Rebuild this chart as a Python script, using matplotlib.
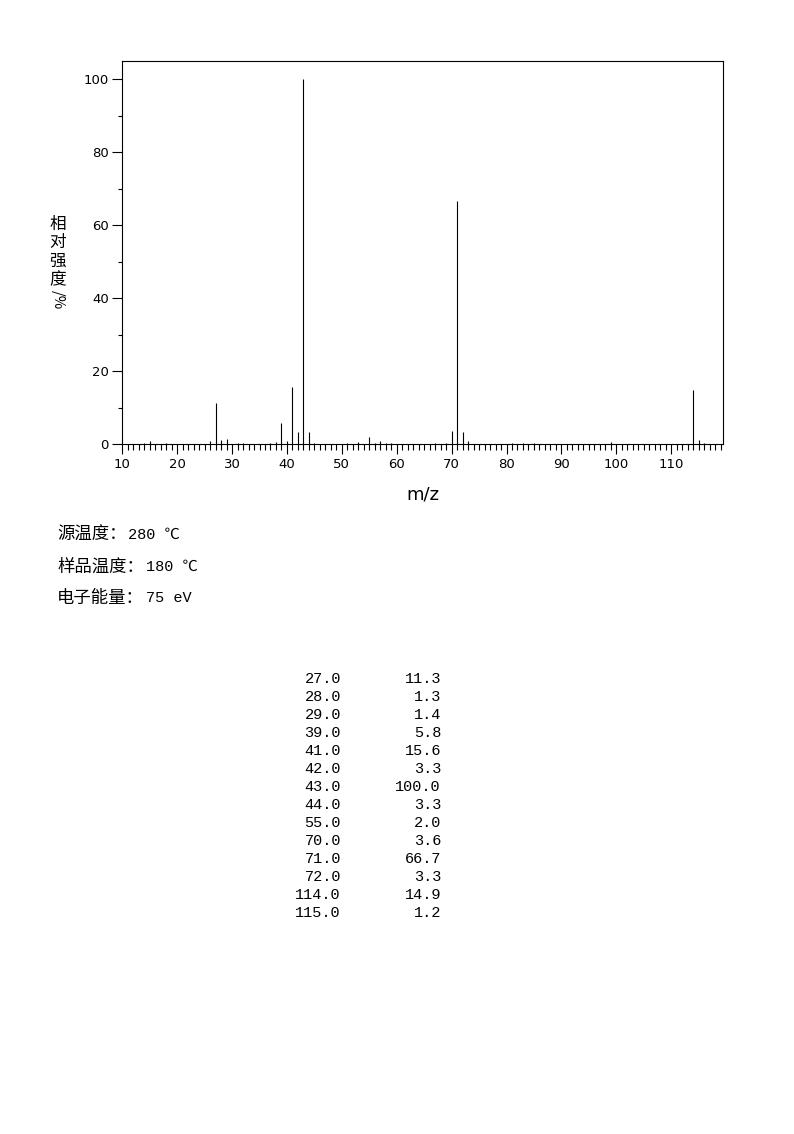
import numpy as np
import matplotlib
matplotlib.use('Agg')
import matplotlib.pyplot as plt
from matplotlib.ticker import MultipleLocator

# peaks (m/z, relative intensity %)
mz = [14, 15, 18, 26, 27, 28, 29, 31, 32, 37, 38, 39, 40, 41, 42, 43, 44, 45,
      51, 53, 55, 56, 57, 58, 59, 67, 69, 70, 71, 72, 73, 81, 83, 85, 99,
      114, 115, 116]
intensity = [0.4, 1.0, 0.4, 1.0, 11.3, 1.3, 1.4, 0.4, 0.4, 0.4, 0.7, 5.8, 1.0,
             15.6, 3.3, 100.0, 3.3, 0.4, 0.4, 0.7, 2.0, 0.4, 1.0, 0.4, 0.4,
             0.4, 0.4, 3.6, 66.7, 3.3, 1.0, 0.3, 0.3, 0.3, 0.7, 14.9, 1.2, 0.4]

# peak table
table_mz = ['27.0', '28.0', '29.0', '39.0', '41.0', '42.0', '43.0', '44.0',
            '55.0', '70.0', '71.0', '72.0', '114.0', '115.0']
table_int = ['11.3', '1.3', '1.4', '5.8', '15.6', '3.3', '100.0', '3.3',
             '2.0', '3.6', '66.7', '3.3', '14.9', '1.2']

cond_names = ['源温度：', '样品温度：', '电子能量：']
cond_values = ['280 ℃', '180 ℃', '75 eV']

W, H = 794, 1134
fig = plt.figure(figsize=(W / 100, H / 100), dpi=100)

def fx(px):
    return px / W

def fy(py):
    return 1 - py / H

ax = fig.add_axes([fx(122.3), fy(444.3), fx(723.3) - fx(122.3), fy(60.7) - fy(444.3)])
ax.vlines(mz, 0, intensity, colors='black', linewidth=0.8)
ax.set_xlim(10, 119.5)
ax.set_ylim(0, 105)

ax.xaxis.set_major_locator(MultipleLocator(10))
ax.xaxis.set_minor_locator(MultipleLocator(1))
ax.yaxis.set_major_locator(MultipleLocator(20))
ax.yaxis.set_minor_locator(MultipleLocator(10))
ax.tick_params(which='major', direction='out', length=7.2, width=0.8,
               labelsize=9.5, pad=2.5)
ax.tick_params(which='minor', direction='out', width=0.8)
ax.tick_params(axis='x', which='minor', length=4.2)
ax.tick_params(axis='y', which='minor', length=3.2)
ax.tick_params(axis='x', which='major', pad=3)
for s in ax.spines.values():
    s.set_linewidth(0.8)

ax.set_xlabel('m/z', fontsize=13, labelpad=10)

# vertical stacked y label
cjk = ['Noto Sans CJK SC', 'DejaVu Sans']
fig.text(fx(58), fy(216), '相\n对\n强\n度', family=cjk, fontsize=12,
         ha='center', va='top', linespacing=1.1)
fig.text(fx(58), fy(290), '/%', family=cjk, fontsize=10.5,
         ha='center', va='top', rotation=-90)

# acquisition conditions: CJK label then monospaced value
renderer = fig.canvas.get_renderer()
for i, (name, val) in enumerate(zip(cond_names, cond_values)):
    y = fy(535 + i * 31.5)
    t = fig.text(fx(57), y, name, family=cjk, fontsize=12.5,
                 ha='left', va='center')
    bb = t.get_window_extent(renderer)
    fig.text(bb.x1 / W + fx(2), y, val,
             family=['Liberation Mono', 'Noto Sans CJK SC'], fontsize=11,
             ha='left', va='center')

# peak list
for i, (a, b) in enumerate(zip(table_mz, table_int)):
    y = fy(679 + i * 18)
    fig.text(fx(341), y, a, family='Liberation Mono', fontsize=11,
             ha='right', va='center')
    fig.text(fx(441), y, b, family='Liberation Mono', fontsize=11,
             ha='right', va='center')

fig.savefig('out.png', dpi=100)
